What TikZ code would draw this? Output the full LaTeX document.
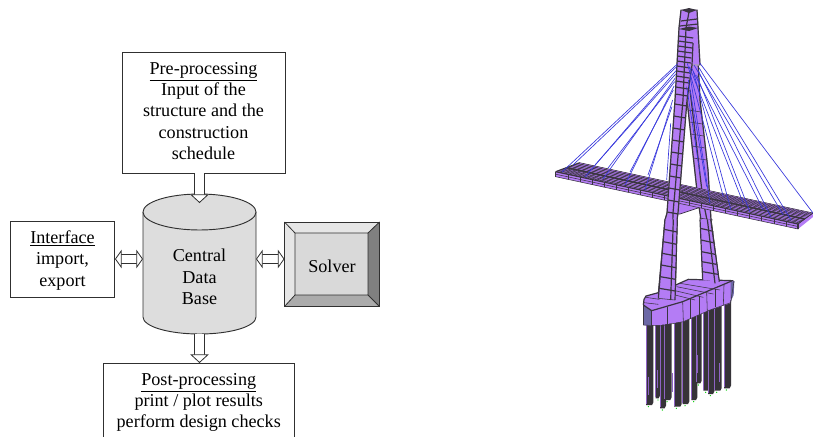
\documentclass[tikz,border=0pt]{standalone}
\usepackage{fontspec}
\setmainfont{Liberation Serif}
\usetikzlibrary{arrows.meta,calc}
\definecolor{cylgray}{HTML}{DDDDDD}
\definecolor{solvgray}{HTML}{D9D9D9}
\definecolor{bevlight}{HTML}{E6E6E6}
\definecolor{bevmid}{HTML}{ABABAB}
\definecolor{bevdark}{HTML}{808080}
\definecolor{linegray}{HTML}{303030}
\definecolor{purp}{HTML}{B47CF5}
\definecolor{purpdark}{HTML}{8E63C4}
\definecolor{edge}{HTML}{3A3540}
\definecolor{cable}{HTML}{3838DC}
\definecolor{slate}{HTML}{6C68A6}
\definecolor{pile}{HTML}{363338}
\definecolor{halo}{HTML}{A8A0B0}
\tikzset{
  box/.style={draw=linegray,line width=0.7pt,fill=white,inner sep=0pt},
  lbl/.style={align=center,font=\fontsize{13.6}{16}\selectfont,inner sep=0pt},
  blockarrow/.style={draw=linegray,double=white,double distance=6.6pt,line width=0.6pt,-{Triangle[fill=white,length=6.5pt,width=14pt,line width=0.6pt]}},
  blockboth/.style={draw=linegray,double=white,double distance=6.6pt,line width=0.6pt,{Triangle[fill=white,length=5pt,width=14pt,line width=0.6pt]}-{Triangle[fill=white,length=5pt,width=14pt,line width=0.6pt]}},
  cab/.style={draw=cable,line width=0.5pt},
  steel/.style={draw=edge,line width=0.9pt},
  thinsteel/.style={draw=edge,line width=0.42pt},
  body/.style={fill=purp,draw=halo,line width=0.8pt},
}
\begin{document}
\begin{tikzpicture}[x=0.75pt,y=-0.75pt]
\useasboundingbox (0,0) rectangle (813,436);
\begin{scope}
\clip (0,0) rectangle (813,436);
% ------ flow chart
\node[box,minimum width=163pt*0.75,minimum height=121pt*0.75,label={[lbl,yshift=1.1pt]center:{\underline{Pre-processing}\\Input of the\\structure and the\\construction\\schedule}}] (pre) at (203.5,112.5) {};
\node[box,minimum width=104pt*0.75,minimum height=75.5pt*0.75,label={[lbl,yshift=-0.6pt]center:{\underline{Interface}\\import,\\export}}] (iface) at (62.5,259.5) {};
\path[fill=cylgray,draw=linegray,line width=0.7pt] (143,212) -- (143,317) arc[start angle=180,end angle=0,x radius=56.5,y radius=17] -- (256,212);
\path[fill=cylgray,draw=linegray,line width=0.7pt] (199.5,212) ellipse[x radius=56.5,y radius=18];
\node[lbl] (db) at (199.5,277) {Central\\Data\\Base};
\coordinate (solvW) at (284.5,259);
\path[fill=solvgray] (295,233) rectangle (368,295);
\path[fill=bevlight] (284.5,222) -- (379.5,222) -- (368,233) -- (295,233) -- (295,295) -- (284.5,306.5) -- cycle;
\path[fill=bevdark] (379.5,222) -- (379.5,306.5) -- (368,295) -- (368,233) -- cycle;
\path[fill=bevmid] (284.5,306.5) -- (379.5,306.5) -- (368,295) -- (295,295) -- cycle;
\draw[linegray,line width=0.6pt] (284.5,222) -- (295,233) (379.5,222) -- (368,233) (284.5,306.5) -- (295,295) (379.5,306.5) -- (368,295) (295,233) rectangle (368,295);
\node[draw=linegray,line width=0.7pt,minimum width=95pt*0.75,minimum height=84.5pt*0.75,inner sep=0pt,label={[lbl,yshift=-1.5pt]center:Solver}] (solver) at (332,264.25) {};
\node[box,minimum width=190.5pt*0.75,minimum height=80pt*0.75,anchor=north] (post) at (198.75,363) {};
\node[lbl,anchor=north] (postt) at (198.75,373) {\underline{Post-processing}\\print / plot results\\perform design checks};
% connectors
\coordinate (dbin) at (199.5,203);
\coordinate (dbL) at (143,259);
\coordinate (dbR) at (256,259);
\coordinate (dbB) at (199.5,334);
\draw[blockarrow] (pre.south) ++(-4,0) -- (dbin);
\draw[blockboth] (iface.east |- dbL) -- (dbL);
\draw[blockboth] (dbR) -- (solvW);
\draw[blockarrow] (dbB) -- (post.north -| dbB);
% ------ bridge: rear leg
\path[body] (690,40) -- (697,40) -- (700,100) -- (708,170) -- (711,220) -- (719,282) -- (703,282) -- (701,220) -- (698,200) -- (687,100) -- cycle;
\draw[steel] (687,100) -- (698,200) -- (701,220) -- (703,282);
\draw[steel] (690,90) -- (703,200) -- (707,220) -- (712,282);
\draw[steel] (697,40) -- (700,100) -- (708,170) -- (711,220) -- (719,282);
\foreach \y in {110,122,134,146,158,206,218,230,242,254,266}{
  \pgfmathsetmacro{\l}{\y<200 ? 687+11*(\y-100)/100 : 698+5*(\y-200)/82}
  \pgfmathsetmacro{\r}{\y<170 ? 700+8*(\y-100)/70 : 708+11*(\y-170)/112}
  \draw[thinsteel] (\l,\y) -- (\r,\y+2);
}
% bracket under the deck
\path[fill=purp,draw=edge,line width=0.5pt] (676,198) -- (705,204) -- (698,208) -- (680,214) -- (676,214) -- cycle;
% ------ deck
\coordinate (dA) at (555.7,171.7);
\coordinate (dB) at (579.7,162.7);
\coordinate (dC) at (813,213);
\coordinate (dD) at (798,224);
\coordinate (dE) at (798,229);
\coordinate (dF) at (555.7,176.7);
\path[fill=purp] (dA) -- (dB) -- (dC) -- (813,217) -- (dE) -- (dF) -- cycle;
\foreach \s in {0.1,0.2,...,0.95}{
  \draw[thinsteel] ($(dA)!\s!(dB)$) -- ($(dD)!\s!(dC)$);
}
\foreach \t in {0.02,0.04,...,1.0}{
  \draw[thinsteel] ($(dA)!\t!(dD)$) -- ($(dB)!\t!(dC)$);
}
\foreach \t in {0,0.05,...,1.01}{
  \draw[thinsteel] ($(dA)!\t!(dD)$) -- ($(dF)!\t!(dE)$);
}
\draw[steel] (dA) -- (dD);
\draw[steel] ($(dA)!0.45!(dB)$) -- ($(dD)!0.45!(dC)$);
\draw[thinsteel] (dB) -- (dC);
\draw[steel] (dA) -- (dB);
\draw[thinsteel] ($(dA)!0.5!(dF)$) -- ($(dD)!0.5!(dE)$);
\draw[thinsteel] (dF) -- (dE) -- (dD) -- (dC);
\draw[steel] (dD) -- (dE);
% ------ front leg
\path[body] (681,10) -- (697,10) -- (698,28) -- (700,65) -- (692,65) -- (687,100) -- (678,213) -- (677,220) -- (675,298) -- (658,298) -- (665,220) -- (667,213) -- (675,100) -- (679,28) -- cycle;
\draw[steel] (681,10) -- (679,28) -- (675,100) -- (667,213) -- (665,220) -- (658,298);
\draw[steel] (689,12) -- (686,28) -- (683,100) -- (673,213) -- (671,298);
\draw[steel] (692,65) -- (687,100) -- (678,213) -- (677,220) -- (675,298);
\draw[steel] (697,10) -- (698,28) -- (700,65);
\draw[steel] (693,43) -- (692,65);
\fill[edge] (681,10) -- (689,8) -- (697,10) -- (689,13) -- cycle;
\fill[edge] (679,29) -- (689,26.5) -- (698,28) -- (689,31) -- cycle;
\draw[steel] (681,21) -- (697,19) (680,26) -- (698,24);
\foreach \y in {36,41,46,51,56,61,66,71,76,81,87,94,104,116,128,140,152,164,176,188,200,212}{
  \pgfmathsetmacro{\l}{\y<100 ? 679-4*(\y-28)/72 : 675-8*(\y-100)/113}
  \pgfmathsetmacro{\r}{\y<100 ? 694-7*(\y-28)/72 : 687-9*(\y-100)/113}
  \draw[steel] (\l,\y) -- (\r,\y+2);
}
% cables
\begin{scope}[shift={(550,0)},x=0.25pt,y=-0.25pt]
\foreach \a/\b/\c/\d in {382/192/36/516,380/200/69/495,378/212/105/531,377/222/135/495,375/235/159/537,374/245/174/504,372/258/225/555,370/270/240/516,368/300/285/570,366/320/294/525,362/370/350/540,
 450/190/789/639,447/203/723/660,445/212/663/651,440/225/600/636,430/215/543/630,420/225/480/609,415/240/470/560,412/190/520/590,418/200/580/610,425/205/640/630,432/195/700/645,410/260/450/520}{
  \draw[cab] (\a,\b) -- (\c,\d);
}
\end{scope}
% lower part
\begin{scope}[shift={(620,220)},x=0.25pt,y=-0.25pt]
% piles
\foreach \xa/\xb/\yb in {78/100/555,107/120/535,120/138/565,134/155/540,162/185/560,188/208/552,214/232/540,228/245/490,250/268/512,264/283/522,283/305/512,312/333/505}{
  \fill[pile] (\xa,240) -- (\xb,240) -- (\xb,\yb-8) -- ({\xb-4},\yb) -- (\xa,\yb) -- cycle;
  \draw[purpdark,line width=0.7pt] (\xa,240) -- (\xa,\yb-3);
  \fill[green!80!black] ({\xa+7},{\yb+5}) circle (2);
}
\foreach \xa/\ya in {232/405,298/430,157/460,112/450,84/470}{
  \draw[purpdark,line width=0.7pt] (\xa,\ya) -- (\xa,\ya+55);
}
% pile cap
\fill[purp] (70,255) -- (72,238) -- (78,228) -- (115,218) -- (165,195) -- (205,178) -- (340,182) -- (330,250) -- (270,270) -- (190,305) -- (120,315) -- (70,315) -- cycle;
\fill[slate] (70,255) -- (95,272) -- (95,318) -- (70,315) -- cycle;
\fill[slate] (332,185) -- (343,183) -- (341,225) -- (332,245) -- cycle;
\draw[steel] (70,255) -- (95,272) -- (188,245) -- (335,183);
\draw[steel] (70,255) -- (72,238) -- (78,228) -- (115,218) -- (205,178) -- (340,182);
\draw[thinsteel] (70,315) -- (120,318) -- (190,305) -- (270,270) -- (332,248) -- (342,183);
\draw[thinsteel] (70,255) -- (70,315) (95,272) -- (95,318);
\foreach \xa/\ya/\xb/\yb in {142/262/142/312,188/245/190/305,210/238/210/298,237/228/237/288,260/218/262/278,285/208/285/262,312/195/310/255}{
  \draw[thinsteel] (\xa,\ya) -- (\xb,\yb);
}
\foreach \xa/\ya/\xb/\yb in {78/232/118/238,72/248/115/253,180/190/300/210,170/200/280/222,165/212/250/232,165/225/225/240}{
  \draw[thinsteel] (\xa,\ya) -- (\xb,\yb);
}
% leg bottoms over the cap
\path[fill=purp] (135,-2) -- (172,-2) -- (165,240) -- (115,235) -- cycle;
\draw[steel] (135,-2) -- (115,235);
\draw[thinsteel] (115,235) -- (165,240);
\draw[steel] (172,-2) -- (165,240);
\draw[steel] (160,-2) -- (152,240);
\foreach \y in {28,65,100,135,170,205}{
  \pgfmathsetmacro{\l}{135-20*\y/235}
  \draw[steel] (\l,\y) -- ({172-7*\y/240},\y+8);
}
\path[fill=purp] (240,-2) -- (272,-2) -- (298,185) -- (248,180) -- cycle;
\draw[steel] (240,-2) -- (248,180) (272,-2) -- (298,185) (262,-2) -- (285,190);
\foreach \y in {25,60,95,125,155}{
  \pgfmathsetmacro{\l}{240+8*\y/180}
  \pgfmathsetmacro{\r}{272+26*\y/185}
  \draw[steel] (\l,\y) -- (\r,\y+8);
}
\end{scope}
\end{scope}
\end{tikzpicture}
\end{document}
